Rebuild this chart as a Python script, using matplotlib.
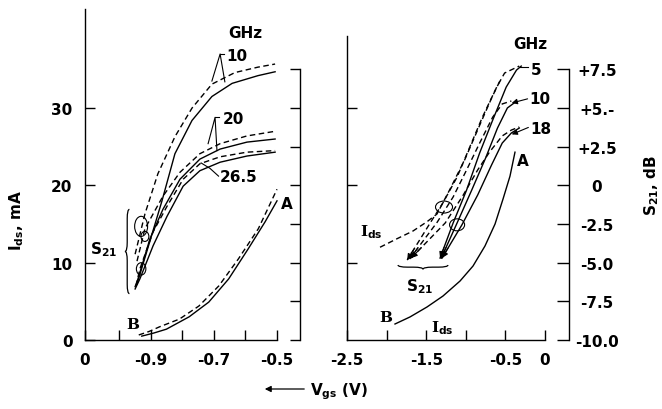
import numpy as np
import matplotlib
matplotlib.use('Agg')
import matplotlib.pyplot as plt
from matplotlib.patches import Ellipse, PathPatch, FancyArrowPatch
from matplotlib.path import Path

# ---- left panel: Vgs (V) vs Ids (mA) and S21 (dB)
l_vgs_ids_dash = [-0.9375, -0.905, -0.872, -0.809, -0.747, -0.684, -0.622, -0.559, -0.5]
l_ids_dash = [0.65, 1.1, 1.7, 2.7, 4.4, 7.0, 10.5, 14.4, 19.5]
l_vgs_ids_solid = [-0.928, -0.89, -0.85, -0.778, -0.716, -0.653, -0.591, -0.5375, -0.5]
l_ids_solid = [0.5, 0.9, 1.4, 3.0, 4.9, 7.9, 11.8, 15.3, 18.0]

l_vgs_10_dash = [-0.949, -0.918, -0.877, -0.823, -0.769, -0.706, -0.633, -0.560, -0.506]
l_s21_10_dash = [-4.45, -1.85, 0.75, 3.15, 5.0, 6.55, 7.3, 7.65, 7.85]
l_vgs_10_solid = [-0.943, -0.908, -0.864, -0.823, -0.769, -0.706, -0.642, -0.560, -0.506]
l_s21_10_solid = [-6.38, -4.0, -1.0, 2.05, 4.2, 5.75, 6.6, 7.1, 7.35]
l_vgs_20_dash = [-0.943, -0.918, -0.861, -0.807, -0.744, -0.680, -0.595, -0.506]
l_s21_20_dash = [-4.9, -2.8, -0.7, 0.85, 2.05, 2.7, 3.2, 3.5]
l_vgs_20_solid = [-0.949, -0.940, -0.902, -0.861, -0.807, -0.744, -0.680, -0.595, -0.506]
l_s21_20_solid = [-6.55, -6.05, -3.45, -1.55, 0.4, 1.7, 2.35, 2.8, 3.0]
l_vgs_26_dash = [-0.946, -0.934, -0.892, -0.848, -0.797, -0.744, -0.680, -0.595, -0.506]
l_s21_26_dash = [-6.5, -5.4, -3.0, -1.35, 0.4, 1.4, 1.85, 2.15, 2.25]
l_vgs_26_solid = [-0.949, -0.934, -0.892, -0.848, -0.797, -0.744, -0.680, -0.595, -0.506]
l_s21_26_solid = [-6.7, -6.05, -3.9, -2.0, -0.05, 0.95, 1.5, 1.9, 2.15]

# ---- right panel
r_vgs_ids_dash = [-2.083, -1.869, -1.667, -1.49, -1.364, -1.2, -1.01, -0.82, -0.67, -0.57]
r_ids_dash = [12.0, 13.1, 14.1, 15.3, 16.3, 19.5, 23.4, 27.9, 31.4, 33.5]
r_vgs_ids_solid = [-1.894, -1.705, -1.49, -1.288, -1.073, -0.909, -0.758, -0.631, -0.530, -0.442, -0.379]
r_ids_solid = [2.07, 2.98, 4.27, 5.69, 7.63, 9.57, 12.16, 15.0, 18.24, 21.2, 24.3]

r_vgs_5_dash = [-1.74, -1.45, -1.29, -1.11, -0.95, -0.79, -0.61, -0.51, -0.325]
r_s21_5_dash = [-4.83, -2.43, -1.14, 0.54, 2.48, 4.42, 6.36, 7.27, 7.72]
r_vgs_10_dash = [-1.71, -1.36, -1.16, -0.99, -0.825, -0.66, -0.54, -0.425]
r_s21_10_dash = [-4.76, -2.37, -0.75, 1.0, 2.74, 4.42, 5.27, 5.46]
r_vgs_18_dash = [-1.69, -1.26, -1.04, -0.85, -0.70, -0.54, -0.425, -0.325]
r_s21_18_dash = [-4.70, -2.43, -0.69, 1.0, 2.16, 3.20, 3.58, 3.78]
r_vgs_5_solid = [-1.325, -1.16, -0.99, -0.825, -0.66, -0.49, -0.36, -0.30]
r_s21_5_solid = [-4.70, -2.43, -0.30, 2.10, 4.23, 6.36, 7.46, 7.72]
r_vgs_10_solid = [-1.31, -1.11, -0.925, -0.75, -0.60, -0.475, -0.39]
r_s21_10_solid = [-4.70, -2.43, -0.30, 1.77, 3.71, 5.01, 5.33]
r_vgs_18_solid = [-1.30, -1.05, -0.85, -0.675, -0.54, -0.425, -0.325]
r_s21_18_solid = [-4.70, -2.56, -0.62, 1.32, 2.74, 3.39, 3.71]

s21_ticks = [-10, -7.5, -5, -2.5, 0, 2.5, 5, 7.5]
s21_ticklabels = ['-10.0', '-7.5', '-5.0', '-2.5', '0', '+2.5', '+5.-', '+7.5']

plt.rcParams['font.family'] = ['DejaVu Sans']
plt.rcParams['font.weight'] = 'bold'
plt.rcParams['mathtext.default'] = 'bf'
plt.rcParams['axes.linewidth'] = 1.0

W, H = 662, 410
fig = plt.figure(figsize=(W / 100, H / 100), dpi=100)


def box(l, t, r, b):
    return [l / W, 1 - b / H, (r - l) / W, (b - t) / H]


DASH = (0, (4, 2.5))
LW = 1.0
FS = 11


def brace(ax, x, y0, y1, d, q, vertical=True):
    # curly brace, cusp at the middle, depth d
    ym = (y0 + y1) / 2
    pts = [(x, y0), (x - d / 2, y0), (x - d / 2, y0 + q), (x - d / 2, ym - q),
           (x - d / 2, ym), (x - d, ym), (x - d / 2, ym), (x - d / 2, ym + q),
           (x - d / 2, y1 - q), (x - d / 2, y1), (x, y1)]
    if not vertical:
        pts = [(b, a) for a, b in pts]
    codes = [Path.MOVETO, Path.CURVE3, Path.CURVE3, Path.LINETO, Path.CURVE3, Path.CURVE3,
             Path.CURVE3, Path.CURVE3, Path.LINETO, Path.CURVE3, Path.CURVE3]
    ax.add_patch(PathPatch(Path(pts, codes), fc='none', ec='k', lw=0.9))


def head(ax, v, s, scale=9):
    # arrow head at the first point of a curve
    ax.annotate('', xy=(v[0], s[0]), xytext=(v[0] + 0.3 * (v[1] - v[0]), s[0] + 0.3 * (s[1] - s[0])),
                arrowprops=dict(arrowstyle='-|>', color='k', lw=0.8, mutation_scale=scale,
                                shrinkA=0, shrinkB=0))


# ================= left panel =================
axL = fig.add_axes(box(85, 10, 300, 341))
axL.set_xlim(-1.1076, -0.4272)
axL.set_ylim(0, 42.82)
axL.spines['top'].set_visible(False)
axL.spines['right'].set_visible(False)
axL.spines['bottom'].set_bounds(-1.1076, -0.5)
axL.set_xticks([-1.1076, -1.0, -0.9, -0.8, -0.7, -0.6, -0.5])
axL.set_xticklabels(['0', '', '-0.9', '', '-0.7', '', '-0.5'])
axL.set_yticks([0, 10, 20, 30])
axL.set_yticklabels(['0', '10', '20', '30'])
axL.tick_params(direction='in', length=7, width=1, labelsize=FS)
axL.tick_params(axis='x', pad=9)
axL.tick_params(axis='y', pad=9)

sL = axL.twinx()
sL.set_ylim(-10, 11.41)
for s in ['left', 'top', 'bottom']:
    sL.spines[s].set_visible(False)
sL.spines['right'].set_bounds(-10, 7.5)
sL.set_yticks(s21_ticks)
sL.tick_params(axis='y', direction='in', length=7, width=1, labelright=False)

axL.plot(l_vgs_ids_dash, l_ids_dash, 'k', lw=LW, ls=DASH)
axL.plot(l_vgs_ids_solid, l_ids_solid, 'k', lw=LW)
for v, s, st in [(l_vgs_10_dash, l_s21_10_dash, DASH), (l_vgs_10_solid, l_s21_10_solid, '-'),
                 (l_vgs_20_dash, l_s21_20_dash, DASH), (l_vgs_20_solid, l_s21_20_solid, '-'),
                 (l_vgs_26_dash, l_s21_26_dash, DASH), (l_vgs_26_solid, l_s21_26_solid, '-')]:
    sL.plot(v, s, 'k', lw=LW, ls=st)

# circles near the lower ends
for xy, w, h in [((-0.930, 14.7), 0.041, 2.6), ((-0.918, 13.4), 0.025, 1.3), ((-0.930, 9.2), 0.03, 1.6)]:
    axL.add_patch(Ellipse(xy, w, h, fc='none', ec='k', lw=0.8))

# frequency labels with leaders
axL.text(-0.601, 39.8, 'GHz', fontsize=FS, ha='center', va='center')
axL.plot([-0.706, -0.680, -0.665], [33.5, 37.0, 33.4], 'k', lw=0.8)
axL.plot([-0.680, -0.668], [37.0, 37.0], 'k', lw=0.8)
axL.text(-0.660, 36.8, '10', fontsize=FS, ha='left', va='center')
axL.plot([-0.718, -0.696, -0.690], [25.4, 28.8, 24.5], 'k', lw=0.8)
axL.plot([-0.696, -0.682], [28.8, 28.8], 'k', lw=0.8)
axL.text(-0.672, 28.6, '20', fontsize=FS, ha='left', va='center')
axL.plot([-0.740, -0.712, -0.685], [22.9, 22.2, 21.2], 'k', lw=0.8)
axL.text(-0.680, 21.1, '26.5', fontsize=FS, ha='left', va='center')
axL.text(-0.468, 17.6, 'A', fontsize=FS, ha='center', va='center')
axL.text(-0.956, 2.1, 'B', fontsize=FS, ha='center', va='center', family='DejaVu Serif')
brace(axL, -0.967, 6.0, 16.9, 0.014, 1.2)
axL.text(-1.05, 11.8, r'S$_{21}$', fontsize=FS, ha='center', va='center')

# ================= right panel =================
axR = fig.add_axes(box(347, 37, 545, 341))
axR.set_xlim(-2.5, 0)
axR.set_ylim(0, 39.33)
axR.spines['top'].set_visible(False)
axR.spines['right'].set_visible(False)
axR.set_xticks([-2.5, -2.0, -1.5, -1.0, -0.5, 0])
axR.set_xticklabels(['-2.5', '', '-1.5', '', '-0.5', '0'])
axR.set_yticks([10, 20, 30])
axR.tick_params(direction='in', length=7, width=1, labelsize=FS, labelleft=False)
axR.tick_params(axis='x', pad=9)

sR = axR.twinx()
sR.set_ylim(-10, 9.665)
for s in ['left', 'top', 'bottom']:
    sR.spines[s].set_visible(False)
sR.spines['right'].set_position(('outward', 17.3))
sR.spines['right'].set_bounds(-10, 7.5)
sR.set_yticks(s21_ticks)
sR.set_yticklabels(s21_ticklabels)
sR.tick_params(axis='y', direction='in', length=8.6, width=1, labelsize=FS, pad=20)
for t in sR.get_yticklabels():
    t.set_ha('center')

axR.plot(r_vgs_ids_dash, r_ids_dash, 'k', lw=LW, ls=DASH)
axR.plot(r_vgs_ids_solid, r_ids_solid, 'k', lw=LW)
for v, s, st in [(r_vgs_5_dash, r_s21_5_dash, DASH), (r_vgs_10_dash, r_s21_10_dash, DASH),
                 (r_vgs_18_dash, r_s21_18_dash, DASH), (r_vgs_5_solid, r_s21_5_solid, '-'),
                 (r_vgs_10_solid, r_s21_10_solid, '-'), (r_vgs_18_solid, r_s21_18_solid, '-')]:
    sR.plot(v, s, 'k', lw=LW, ls=st)
    head(sR, v, s)

for xy, w, h in [((-1.275, 17.2), 0.215, 1.55), ((-1.11, 14.9), 0.19, 1.55)]:
    axR.add_patch(Ellipse(xy, w, h, fc='none', ec='k', lw=0.8))

axR.text(-0.19, 38.3, 'GHz', fontsize=FS, ha='center', va='center')
sR.plot([-0.316, -0.21], [7.66, 7.66], 'k', lw=0.8)
sR.text(-0.18, 7.5, '5', fontsize=FS, ha='left', va='center')
sR.annotate('', xy=(-0.42, 5.33), xytext=(-0.22, 5.6),
            arrowprops=dict(arrowstyle='-|>', color='k', lw=0.8, mutation_scale=8, shrinkA=0, shrinkB=0))
sR.text(-0.20, 5.6, '10', fontsize=FS, ha='left', va='center')
sR.annotate('', xy=(-0.42, 3.3), xytext=(-0.21, 3.75),
            arrowprops=dict(arrowstyle='-|>', color='k', lw=0.8, mutation_scale=8, shrinkA=0, shrinkB=0))
sR.text(-0.19, 3.7, '18', fontsize=FS, ha='left', va='center')

axR.text(-0.278, 23.2, 'A', fontsize=FS, ha='center', va='center')
axR.text(-2.007, 3.0, 'B', fontsize=FS, ha='center', va='center', family='DejaVu Serif')
axR.text(-1.29, 1.6, r'I$_{ds}$', fontsize=FS, ha='center', va='center', family='DejaVu Serif')
axR.text(-2.19, 14.1, r'I$_{ds}$', fontsize=FS, ha='center', va='center', family='DejaVu Serif')
brace(axR, 9.7, -1.856, -1.225, 0.55, 0.12, vertical=False)
axR.text(-1.58, 7.0, r'S$_{21}$', fontsize=FS, ha='center', va='center')

# ================= shared labels =================
fig.text(17 / W, 1 - 220 / H, r'I$_{ds}$, mA', rotation=90, fontsize=FS, ha='center', va='center')
fig.text(652 / W, 1 - 186 / H, r'S$_{21}$, dB', rotation=90, fontsize=FS, ha='center', va='center')
fig.text(310 / W, 1 - 392 / H, r'V$_{gs}$ (V)', fontsize=FS, ha='left', va='center')
fig.add_artist(FancyArrowPatch((307 / W, 1 - 390 / H), (262 / W, 1 - 390 / H),
                               transform=fig.transFigure, arrowstyle='-|>',
                               mutation_scale=9, lw=0.9, color='k'))

fig.savefig('out.png', dpi=100)
